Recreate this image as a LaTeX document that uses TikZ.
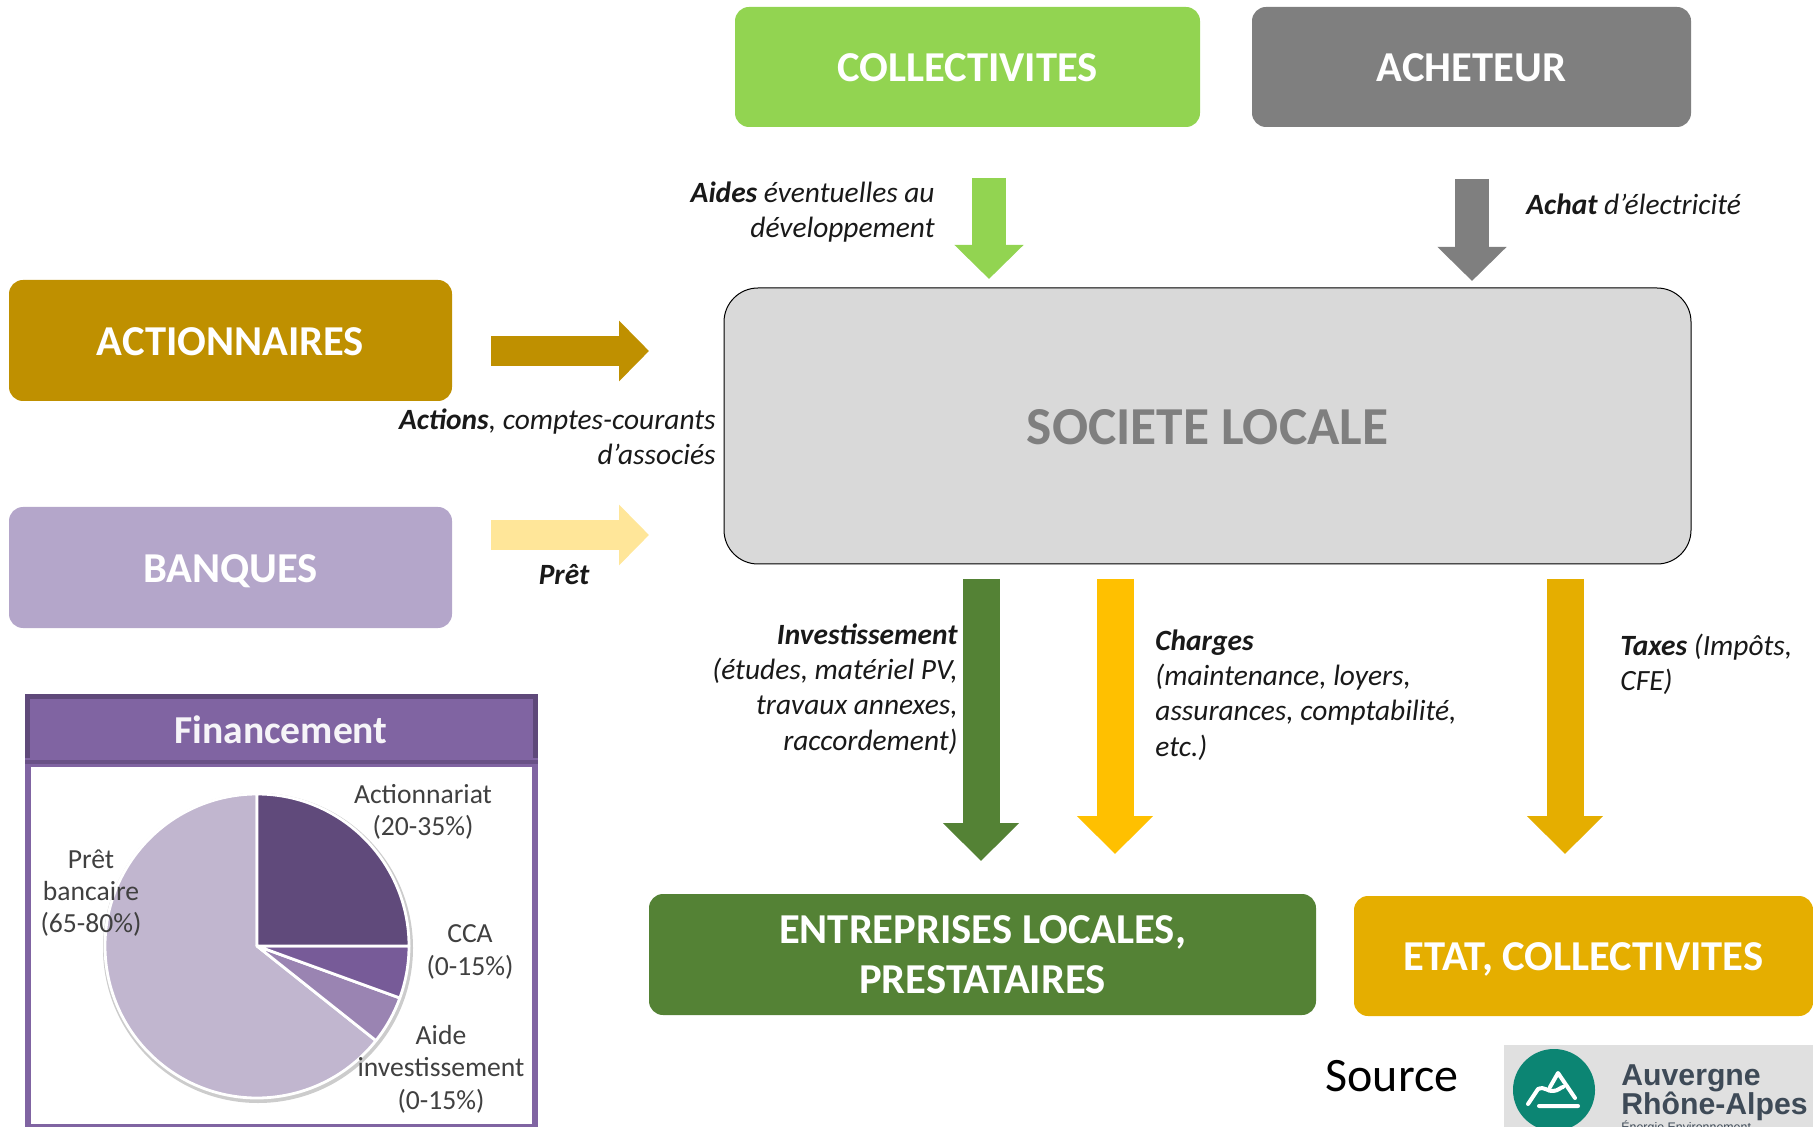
\documentclass[tikz,border=0pt]{standalone}
\usepackage{fontspec}
\setmainfont{Carlito}
\newfontfamily\logofont{Liberation Sans}
\usetikzlibrary{arrows.meta}
\definecolor{cgreen}{HTML}{92D451}
\definecolor{cgray}{HTML}{7F7F7F}
\definecolor{cgold}{HTML}{BF9000}
\definecolor{cmauve}{HTML}{B4A6CA}
\definecolor{cbody}{HTML}{D9D9D9}
\definecolor{cdgreen}{HTML}{548235}
\definecolor{cyellow}{HTML}{FFC000}
\definecolor{cdyellow}{HTML}{E5AE00}
\definecolor{cpale}{HTML}{FFE699}
\definecolor{chead}{HTML}{8064A2}
\definecolor{cheaddark}{HTML}{5F497A}
\definecolor{pieA}{HTML}{604A7B}
\definecolor{pieB}{HTML}{775B98}
\definecolor{pieC}{HTML}{9A84B2}
\definecolor{pieD}{HTML}{C1B6CF}
\definecolor{logoteal}{HTML}{0C8573}
\definecolor{logotext}{HTML}{3E4A57}
\tikzset{
  x=0.5pt,y=-0.5pt,
  box/.style={fill=#1,rounded corners=7pt,inner sep=0pt,text=white,align=center,
    text height=18pt,text depth=3.3pt,
    font=\bfseries\fontsize{21.3}{25.3}\selectfont},
  flowthin/.style={#1,line width=16.7pt,-{Triangle[length=17pt,width=33.5pt]}},
  flowside/.style={#1,line width=15pt,-{Triangle[length=15pt,width=29.5pt]}},
  flowbig/.style={#1,line width=18.5pt,-{Triangle[length=19pt,width=37pt]}},
  lab/.style={inner sep=0pt,font=\itshape\fontsize{14.7}{17.6}\selectfont,text=black!90},
  pielab/.style={inner sep=0pt,align=center,text=black!75,font=\fontsize{13.8}{16.2}\selectfont},
  wedge/.style={fill=#1,draw=white,line width=1.4pt,line join=round},
}
\begin{document}
\begin{tikzpicture}
\useasboundingbox (0,0) rectangle (1813,1127);
% main boxes
\node[box=cgreen,minimum width=232.5pt,minimum height=60pt] (coll) at (967.5,67) {COLLECTIVITES};
\node[box=cgray,minimum width=219.5pt,minimum height=60pt] (ach) at (1471.5,67) {ACHETEUR};
\node[box=cgold,minimum width=221.5pt,minimum height=60.5pt] (act) at (230.5,340.5) {ACTIONNAIRES};
\node[box=cmauve,minimum width=221.5pt,minimum height=60.5pt] (ban) at (230.5,567.5) {BANQUES};
\node[box=cbody,draw=black,line width=0.5pt,rounded corners=17pt,minimum width=483.5pt,minimum height=138pt,text=cgray,
  text height=22pt,text depth=3.8pt,font=\bfseries\fontsize{26.7}{30}\selectfont] (soc) at (1207.5,426) {SOCIETE LOCALE};
\node[box=cdgreen,minimum width=333.5pt,minimum height=60.5pt,text height=,text depth=] (ent) at (982.5,954.5) {ENTREPRISES LOCALES,\\PRESTATAIRES};
\node[box=cdyellow,minimum width=229.5pt,minimum height=60pt] (etat) at (1583.5,956) {ETAT, COLLECTIVITES};
% flow arrows
\coordinate (a1s) at (989,178);  \coordinate (a1e) at (989,279);
\coordinate (a2s) at (1472,179); \coordinate (a2e) at (1472,281);
\coordinate (a3s) at (491,351);  \coordinate (a3e) at (649,351);
\coordinate (a4s) at (491,535);  \coordinate (a4e) at (649,535);
\coordinate (a5s) at (981,579);  \coordinate (a5e) at (981,861);
\coordinate (a6s) at (1115,579); \coordinate (a6e) at (1115,854);
\coordinate (a7s) at (1565,579); \coordinate (a7e) at (1565,854);
\draw[flowthin=cgreen] (a1s) -- (a1e);
\draw[flowthin=cgray] (a2s) -- (a2e);
\draw[flowside=cgold] (a3s) -- (a3e);
\draw[flowside=cpale] (a4s) -- (a4e);
\draw[flowbig=cdgreen] (a5s) -- (a5e);
\draw[flowbig=cyellow] (a6s) -- (a6e);
\draw[flowbig=cdyellow] (a7s) -- (a7e);
% labels
\node[lab,align=right,anchor=east] (l1) at (935,212) {\textbf{Aides} éventuelles au\\développement};
\node[lab,anchor=west] (l2) at (1526,204) {\textbf{Achat} d’électricité};
\node[lab,align=right,anchor=east] (l3) at (716,437) {\textbf{Actions}, comptes-courants\\d’associés};
\node[lab,anchor=center] (l4) at (564,575) {\textbf{Prêt}};
\node[lab,align=right,anchor=east] (l5) at (958,689) {\textbf{Investissement}\\(études, matériel PV,\\travaux annexes,\\raccordement)};
\node[lab,align=left,anchor=west] (l6) at (1155,695) {\textbf{Charges}\\(maintenance, loyers,\\assurances, comptabilité,\\etc.)};
\node[lab,align=left,anchor=west] (l7) at (1620,664) {\textbf{Taxes} (Impôts,\\CFE)};
% financing panel
\fill[chead] (25,694) rectangle (538,1127);
\fill[white] (31,767) rectangle (532,1124);
\fill[cheaddark] (25,694) rectangle (538,699);
\fill[cheaddark] (25,699) rectangle (30,758);
\fill[cheaddark] (533,699) rectangle (538,758);
\fill[cheaddark!70!chead] (25,760) rectangle (538,764);
\node[inner sep=0pt,text=white!93!chead,font=\bfseries\fontsize{19.8}{22}\selectfont] (fin) at (281,730) {Financement};
% pie
\coordinate (pc) at (257,946);
\fill[black!20] (258,948) circle[radius=77.5pt];
\filldraw[wedge=pieD] (pc) -- ++(-38.5:76pt) arc[start angle=-38.5,end angle=-270,radius=76pt] -- cycle;
\filldraw[wedge=pieC] (pc) -- ++(-20:76pt) arc[start angle=-20,end angle=-38.5,radius=76pt] -- cycle;
\filldraw[wedge=pieB] (pc) -- ++(0:76pt) arc[start angle=0,end angle=-20,radius=76pt] -- cycle;
\filldraw[wedge=pieA] (pc) -- ++(90:76pt) arc[start angle=90,end angle=0,radius=76pt] -- cycle;
\node[pielab] (p1) at (423,812) {Actionnariat\\(20-35\%)};
\node[pielab] (p2) at (91,893) {Prêt\\bancaire\\(65-80\%)};
\node[pielab] (p3) at (470,952) {CCA\\(0-15\%)};
\node[pielab] (p4) at (441,1069) {Aide\\investissement\\(0-15\%)};
% source and logo
\node[inner sep=0pt,anchor=base,font=\fontsize{24}{26}\selectfont] (src) at (1392,1091) {Source};
\begin{scope}
\clip (0,0) rectangle (1813,1127);
\fill[black!12] (1504,1045) rectangle (1813,1127);
\node[circle,fill=logoteal,minimum size=41pt,inner sep=0pt] (logo) at (1554,1090) {};
\draw[white,line width=2pt,line cap=round,line join=round]
  (1528,1104) -- (1538,1089) .. controls (1545,1086) and (1548,1092) .. (1553,1091) .. controls (1558,1091) and (1561,1087) .. (1563,1087)
  (1550,1087) -- (1558,1073) -- (1575,1098)
  (1539,1106) -- (1578,1106);
\node[inner sep=0pt,anchor=base west,text=logotext,align=left,font=\logofont\bfseries\fontsize{15.1}{16}\selectfont] (lt1) at (1621,1085) {Auvergne};
\node[inner sep=0pt,anchor=base west,text=logotext,align=left,font=\logofont\bfseries\fontsize{15.1}{16}\selectfont] (lt2) at (1621,1114) {Rhône-Alpes};
\node[inner sep=0pt,anchor=base west,text=logotext,font=\logofont\fontsize{6.2}{8}\selectfont] (lt3) at (1621,1131) {Énergie Environnement};
\end{scope}
\end{tikzpicture}
\end{document}
